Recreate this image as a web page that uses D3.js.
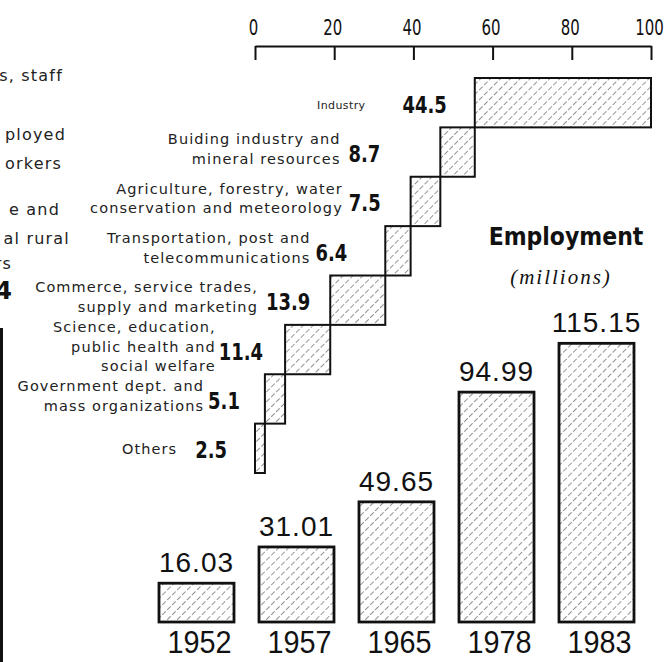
<!DOCTYPE html>
<html>
<head>
<meta charset="utf-8">
<script src="https://cdn.jsdelivr.net/npm/d3@7"></script>
<style>
  body { margin: 0; background: #fff; }
  svg { display: block; }
</style>
</head>
<body>
<div id="chart"></div>
<script>
// share of staff and workers by sector (%)
var sectors = [
  ["Industry"],
  ["Buiding industry and", "mineral resources"],
  ["Agriculture, forestry, water", "conservation and meteorology"],
  ["Transportation, post and", "telecommunications"],
  ["Commerce, service trades,", "supply and marketing"],
  ["Science, education,", "public health and", "social welfare"],
  ["Government dept. and", "mass organizations"],
  ["Others"]
]
var shares = [44.5, 8.7, 7.5, 6.4, 13.9, 11.4, 5.1, 2.5]
var shareTicks = [0, 20, 40, 60, 80, 100]

// employment (millions)
var years = ["1952", "1957", "1965", "1978", "1983"]
var employment = [16.03, 31.01, 49.65, 94.99, 115.15]

// text of the neighbouring chart, cut by the left edge
var leftText = ["s, staff", "ployed", "orkers", "e and", "al rural", "rs"]

// hand layout: gap between value and its bar, and between label and value
var valueGap = [28, 60, 30, 38, 20, 22, 25, 28]
var labelGap = [37, 8, 6, 5, 8, 3, 4, 18]
var leftEnd = [63, 66, 62, 60, 70, 12]
var leftBase = [81, 140, 169, 215, 244, 269]

var width = 668, height = 662
var ink = "#111"
var labelFont = "'DejaVu Sans', sans-serif"
var condFont = "'DejaVu Sans', sans-serif"

// squeeze a text horizontally, the print uses condensed type
function condense(sel, k) {
  sel.each(function() {
    var w = this.getComputedTextLength()
    d3.select(this).attr("textLength", w * k).attr("lengthAdjust", "spacingAndGlyphs")
  })
}

var svg = d3.select("#chart").append("svg")
    .attr("width", width)
    .attr("height", height)

svg.append("rect").attr("width", width).attr("height", height).attr("fill", "#fff")

var pattern = svg.append("defs").append("pattern")
    .attr("id", "hatch")
    .attr("patternUnits", "userSpaceOnUse")
    .attr("width", 7)
    .attr("height", 7)
    .attr("patternTransform", "rotate(45)")
pattern.append("line")
    .attr("x1", 3.5).attr("y1", 0)
    .attr("x2", 3.5).attr("y2", 7)
    .attr("stroke", "#888")
    .attr("stroke-width", 0.9)
    .attr("stroke-dasharray", "5,2")

// ---- top: staircase of sector shares ----
var x = d3.scaleLinear().domain([0, 100]).range([255, 651])
var rows = d3.scaleBand().domain(d3.range(sectors.length)).range([78, 473])

var ends = [], acc = 100
shares.forEach(function(s) { ends.push(acc); acc -= s })

var axis = svg.append("g")
    .attr("transform", "translate(0,46)")
    .call(d3.axisBottom(x).tickValues(shareTicks).tickSize(14).tickSizeOuter(0))
axis.attr("font-family", condFont).attr("font-size", 22)
axis.select(".domain").attr("stroke", ink).attr("stroke-width", 2)
axis.selectAll(".tick line").attr("stroke", ink).attr("stroke-width", 2)
axis.selectAll(".tick text").attr("y", -11).attr("dy", 0).attr("dx", -2).attr("fill", ink)
    .call(condense, 0.68)

svg.append("g")
    .selectAll("rect")
    .data(shares)
    .enter()
    .append("rect")
    .attr("x", function(d, i) { return x(ends[i] - d) })
    .attr("y", function(d, i) { return rows(i) })
    .attr("width", function(d, i) { return x(ends[i]) - x(ends[i] - d) })
    .attr("height", rows.bandwidth())
    .attr("fill", "url(#hatch)")
    .attr("stroke", ink)
    .attr("stroke-width", 2)

var rowText = svg.append("g")
    .selectAll("g")
    .data(shares)
    .enter()
    .append("g")

rowText.each(function(d, i) {
  var g = d3.select(this)
  var base = rows(i) + rows.bandwidth() / 2 + 10
  var vx = x(ends[i] - d) - valueGap[i]
  var val = g.append("text")
      .attr("x", vx)
      .attr("y", base)
      .attr("text-anchor", "end")
      .attr("font-family", condFont)
      .attr("font-weight", "bold")
      .attr("font-size", 23)
      .attr("fill", ink)
      .text(d3.format(".1f")(d))
  var vw = val.node().getComputedTextLength() * 0.78
  val.call(condense, 0.78)
  var lx = vx - vw - labelGap[i]
  var lines = sectors[i]
  var small = i === 0
  var first = base - (lines.length > 1 ? 8 : 4) - (lines.length - 1) * 19.5 / 2
  g.selectAll(".lbl")
      .data(lines)
      .enter()
      .append("text")
      .attr("class", "lbl")
      .attr("x", lx)
      .attr("y", function(l, j) { return first + j * 19.5 })
      .attr("text-anchor", "end")
      .attr("font-family", labelFont)
      .attr("font-size", small ? 11 : 14.5)
      .attr("letter-spacing", small ? 0.4 : 1.1)
      .attr("fill", "#222")
      .text(function(l) { return l })
})

// ---- bottom: employment bars ----
var xb = d3.scaleBand().domain(years).range([146.5, 646.5]).paddingInner(0.25).paddingOuter(0.125)
var y = d3.scaleLinear().domain([0, 120]).range([622, 331.6])

svg.append("g")
    .selectAll("rect")
    .data(employment)
    .enter()
    .append("rect")
    .attr("x", function(d, i) { return xb(years[i]) })
    .attr("y", function(d) { return y(d) })
    .attr("width", xb.bandwidth())
    .attr("height", function(d) { return y(0) - y(d) })
    .attr("fill", "url(#hatch)")
    .attr("stroke", ink)
    .attr("stroke-width", 2.8)

svg.append("g")
    .selectAll("text")
    .data(employment)
    .enter()
    .append("text")
    .attr("x", function(d, i) { return xb(years[i]) + xb.bandwidth() / 2 })
    .attr("y", function(d) { return y(d) - 11 })
    .attr("text-anchor", "middle")
    .attr("font-family", "'Liberation Sans', Arial, sans-serif")
    .attr("font-size", 28)
    .attr("letter-spacing", 1)
    .attr("fill", ink)
    .text(function(d) { return d3.format(".2f")(d) })

svg.append("g")
    .selectAll("text")
    .data(years)
    .enter()
    .append("text")
    .attr("x", function(d) { return xb(d) + xb.bandwidth() / 2 + 3 })
    .attr("y", 653)
    .attr("text-anchor", "middle")
    .attr("font-family", "'Liberation Sans', Arial, sans-serif")
    .attr("font-size", 32)
    .attr("fill", ink)
    .text(function(d) { return d })
    .call(condense, 0.9)

svg.append("text")
    .attr("x", 566)
    .attr("y", 245)
    .attr("text-anchor", "middle")
    .attr("font-family", condFont)
    .attr("font-weight", "bold")
    .attr("font-size", 25)
    .attr("fill", ink)
    .text("Employment")
    .call(condense, 0.88)

svg.append("text")
    .attr("x", 561)
    .attr("y", 284)
    .attr("text-anchor", "middle")
    .attr("font-family", "'Liberation Serif', serif")
    .attr("font-style", "italic")
    .attr("font-size", 21)
    .attr("letter-spacing", 2)
    .attr("fill", ink)
    .text("(millions)")

// ---- fragment of the chart on the left ----
svg.append("g")
    .selectAll("text")
    .data(leftText)
    .enter()
    .append("text")
    .attr("x", function(d, i) { return leftEnd[i] })
    .attr("y", function(d, i) { return leftBase[i] })
    .attr("text-anchor", "end")
    .attr("font-family", labelFont)
    .attr("font-size", 16)
    .attr("letter-spacing", 1.2)
    .attr("fill", "#222")
    .text(function(d) { return d })

svg.append("text")
    .attr("x", 12)
    .attr("y", 299)
    .attr("text-anchor", "end")
    .attr("font-family", condFont)
    .attr("font-weight", "bold")
    .attr("font-size", 24)
    .attr("fill", ink)
    .text("4")

svg.append("line")
    .attr("x1", 1.5).attr("y1", 328)
    .attr("x2", 1.5).attr("y2", height)
    .attr("stroke", ink)
    .attr("stroke-width", 3)
</script>
</body>
</html>
